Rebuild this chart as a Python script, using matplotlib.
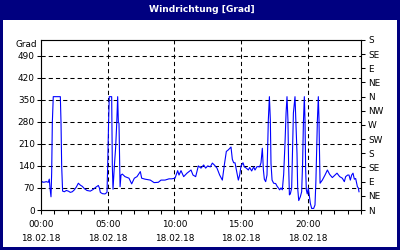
import matplotlib
matplotlib.use("Agg")
import matplotlib.pyplot as plt
from matplotlib.patches import Rectangle
from matplotlib.ticker import FixedLocator, MultipleLocator

# wind direction (hours since 00:00, degrees)
hours = [
    0.0, 0.08, 0.2, 0.4, 0.55, 0.62, 0.68, 0.75, 0.8, 0.85, 0.92, 1.0, 1.2, 1.45,
    1.5, 1.55, 1.62, 1.75, 1.9, 2.05, 2.2, 2.35, 2.5, 2.65, 2.8, 2.95, 3.1, 3.25,
    3.45, 3.7, 3.9, 4.1, 4.3, 4.38, 4.45, 4.6, 4.8, 4.95, 5.0, 5.07, 5.12, 5.3,
    5.35, 5.4, 5.5, 5.6, 5.68, 5.75, 5.8, 5.85, 5.93, 6.0, 6.1, 6.3, 6.6, 6.8,
    7.0, 7.2, 7.45, 7.55, 7.8, 8.2, 8.48, 8.8, 9.0, 9.3, 9.6, 9.8, 10.05, 10.25,
    10.35, 10.5, 10.7, 10.95, 11.25, 11.4, 11.6, 11.8, 12.0, 12.2, 12.35, 12.5,
    12.7, 12.85, 13.0, 13.2, 13.4, 13.6, 13.75, 13.9, 14.05, 14.25, 14.35, 14.45,
    14.55, 14.7, 14.8, 14.9, 15.0, 15.15, 15.25, 15.4, 15.55, 15.65, 15.8, 15.95,
    16.05, 16.2, 16.4, 16.5, 16.6, 16.68, 16.75, 16.85, 16.95, 17.05, 17.13,
    17.2, 17.25, 17.33, 17.45, 17.6, 17.7, 17.8, 17.9, 18.0, 18.1, 18.2, 18.3,
    18.38, 18.45, 18.52, 18.57, 18.63, 18.7, 18.8, 18.87, 18.93, 19.05, 19.12,
    19.2, 19.25, 19.33, 19.45, 19.55, 19.62, 19.68, 19.75, 19.8, 19.85, 19.9,
    19.97, 20.05, 20.12, 20.2, 20.3, 20.45, 20.55, 20.62, 20.68, 20.73, 20.8,
    20.85, 20.88, 20.93, 21.1, 21.3, 21.48, 21.65, 21.85, 22.0, 22.2, 22.4, 22.6,
    22.75, 22.85, 23.0, 23.1, 23.2, 23.3, 23.4, 23.5, 23.6, 23.73, 23.8, 23.85,
]
degrees = [
    82, 90, 88, 90, 88, 98, 68, 42, 118, 278, 360, 360, 360, 360,
    280, 140, 60, 58, 62, 60, 56, 58, 64, 73, 85, 79, 75, 68,
    62, 60, 65, 72, 78, 70, 56, 52, 51, 56, 138, 280, 360, 360,
    140, 66, 138, 200, 276, 360, 280, 275, 74, 111, 114, 106, 101, 83,
    101, 106, 122, 101, 98, 95, 87, 88, 95, 95, 99, 99, 101, 125,
    111, 125, 106, 117, 127, 111, 106, 140, 133, 143, 133, 140,
    137, 149, 143, 133, 111, 95, 143, 186, 191, 200, 161, 150,
    150, 117, 95, 111, 140, 150, 137, 133, 127, 135, 124, 137,
    127, 138, 137, 150, 196, 127, 98, 90, 111, 286, 360,
    286, 148, 95, 85, 84, 76, 70, 64, 70, 64, 113, 212,
    308, 360, 286, 148, 48, 51, 70, 201, 308, 360, 280,
    180, 70, 30, 42, 58, 148, 276, 360, 286, 127, 64,
    51, 70, 48, 21, 5, 5, 16, 95, 201, 286, 360,
    286, 201, 85, 95, 111, 127, 113, 103, 109, 117, 106, 101,
    90, 106, 111, 111, 95, 111, 117, 98, 100, 74, 70, 58,
]

left_ticks = [0, 70, 140, 210, 280, 350, 420, 490]
compass = ["N", "NE", "E", "SE", "S", "SW", "W", "NW", "N", "NE", "E", "SE", "S"]
time_labels = ["00:00", "05:00", "10:00", "15:00", "20:00"]
date_label = "18.02.18"

plt.rcParams["font.family"] = "DejaVu Sans"
plt.rcParams["lines.scale_dashes"] = False

W, H = 400, 250
fig = plt.figure(figsize=(W / 100, H / 100), dpi=100)
fig.patch.set_facecolor("#000080")
fig.add_artist(Rectangle((3 / W, 3 / H), 394 / W, 227 / H, transform=fig.transFigure,
                         facecolor="white", edgecolor="none", zorder=-1))
fig.text(202 / W, 1 - 9 / H, "Windrichtung [Grad]", color="white", fontsize=6.6,
         fontweight="bold", ha="center", va="center")

ax = fig.add_axes([41 / W, 40 / H, 320 / W, 170 / H])
ax.plot(hours, degrees, color="#0000FF", lw=0.8)
ax.set_xlim(0, 24)
ax.set_ylim(0, 540)

ax.set_yticks(left_ticks)
ax.set_yticklabels([str(v) for v in left_ticks])
ax.set_xticks([0, 5, 10, 15, 20])
ax.set_xticklabels([t + "\n" + date_label for t in time_labels])
ax.xaxis.set_minor_locator(MultipleLocator(1))
for lab in ax.get_xticklabels():
    lab.set_linespacing(1.7)

ax.tick_params(axis="both", direction="out", length=3, width=0.75, labelsize=6.4,
               colors="black")
ax.tick_params(axis="x", which="minor", length=3, width=0.75)
ax.tick_params(axis="x", pad=4)
ax.tick_params(axis="y", pad=1.5)

for v in left_ticks[1:]:
    ax.axhline(v, color="black", lw=0.75, ls=(0, (3, 2.2)), zorder=1)
for h in [5, 10, 15, 20]:
    ax.axvline(h, color="black", lw=0.75, ls=(0, (3, 2.2)), zorder=1)

for s in ax.spines.values():
    s.set_linewidth(0.75)
    s.set_color("black")

ax2 = ax.twinx()
ax2.set_ylim(0, 540)
ax2.yaxis.set_major_locator(FixedLocator([45 * i for i in range(len(compass))]))
ax2.set_yticklabels(compass)
ax2.tick_params(axis="y", direction="out", length=3, width=0.75, labelsize=6.4, pad=2)

fig.text(37 / W, 1 - 44.5 / H, "Grad", fontsize=6.4, ha="right", va="center")

fig.savefig("out.png", dpi=100, facecolor=fig.get_facecolor())
